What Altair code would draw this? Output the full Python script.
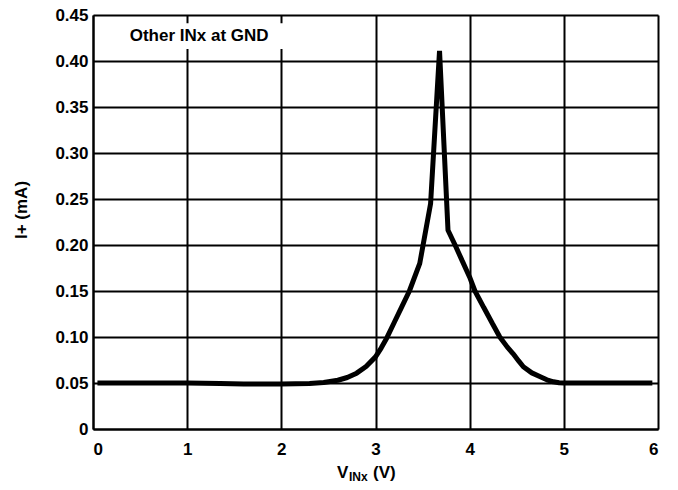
import altair as alt
import pandas as pd

# Curve data: input voltage V_INx (V) vs supply current I+ (mA)
v_inx = [0.047, 0.5, 1.0, 1.35, 1.6, 2.0, 2.3, 2.45, 2.6, 2.7, 2.8, 2.9, 3.0, 3.06,
         3.12, 3.2, 3.28, 3.36, 3.47, 3.585, 3.68, 3.77, 3.845, 3.92, 4.0, 4.056,
         4.15, 4.24, 4.32, 4.4, 4.46, 4.52, 4.57, 4.66, 4.75, 4.82, 4.89, 4.95,
         5.0, 5.5, 5.94]
i_plus = [0.050, 0.050, 0.050, 0.0495, 0.049, 0.049, 0.0495, 0.0505, 0.053, 0.056,
          0.0607, 0.068, 0.0784, 0.088, 0.099, 0.116, 0.133, 0.150, 0.180, 0.245,
          0.411, 0.216, 0.200, 0.183, 0.165, 0.150, 0.132, 0.115, 0.100, 0.089,
          0.082, 0.074, 0.0676, 0.061, 0.0568, 0.0535, 0.0513, 0.0503, 0.050,
          0.050, 0.050]

x_ticks = [0, 1, 2, 3, 4, 5, 6]
y_ticks = [0, 0.05, 0.10, 0.15, 0.20, 0.25, 0.30, 0.35, 0.40, 0.45]

note_text = ["Other INx at GND"]
note_x = [0.39]
note_y = [0.427]
note_box_x = [0.34]
note_box_x2 = [2.03]
note_box_y = [0.413]
note_box_y2 = [0.441]

FONT = "Liberation Sans"
W, H = 565, 414

df = pd.DataFrame({"v": v_inx, "i": i_plus})
note_df = pd.DataFrame({"t": note_text, "x": note_x, "y": note_y,
                        "bx": note_box_x, "bx2": note_box_x2,
                        "by": note_box_y, "by2": note_box_y2})

xscale = alt.Scale(domain=[0, 6], nice=False)
yscale = alt.Scale(domain=[0, 0.45], nice=False)

xaxis = alt.Axis(values=x_ticks, title=None, grid=True, gridColor="black",
                 gridWidth=2, gridOpacity=1, domainColor="black", domainWidth=2,
                 tickSize=0, labelPadding=12, labelFont=FONT, labelFontSize=17,
                 labelFontWeight="bold", labelColor="black", format="d")
yaxis = alt.Axis(values=y_ticks, title=None, grid=True, gridColor="black",
                 gridWidth=2, gridOpacity=1, domainColor="black", domainWidth=2,
                 tickSize=0, labelPadding=5, labelFont=FONT, labelFontSize=17,
                 labelFontWeight="bold", labelColor="black",
                 labelExpr="datum.value == 0 ? '0' : format(datum.value, '.2f')")

line = alt.Chart(df).mark_line(color="black", strokeWidth=5, strokeJoin="bevel").encode(
    x=alt.X("v:Q", scale=xscale, axis=xaxis),
    y=alt.Y("i:Q", scale=yscale, axis=yaxis),
    order="v:Q",
)

box = alt.Chart(note_df).mark_rect(color="white").encode(
    x=alt.X("bx:Q", scale=xscale), x2="bx2:Q",
    y=alt.Y("by:Q", scale=yscale), y2="by2:Q",
)

note = alt.Chart(note_df).mark_text(
    align="left", baseline="middle", font=FONT, fontSize=17, fontWeight="bold",
    color="black").encode(
    x=alt.X("x:Q", scale=xscale), y=alt.Y("y:Q", scale=yscale), text="t:N")


def tpart(txt, xpos, ypos, size):
    return alt.Chart(pd.DataFrame({"t": [txt]})).mark_text(
        align="left", baseline="alphabetic", font=FONT, fontSize=size,
        fontWeight="bold", color="black").encode(
        x=alt.value(xpos), y=alt.value(ypos), text="t:N")


xt1 = tpart("V", 244, 463, 17)
xt2 = tpart("INx", 256, 466, 12)
xt3 = tpart("(V)", 280, 463, 17)

ytitle = alt.Chart(pd.DataFrame({"t": ["I+ (mA)"]})).mark_text(
    align="center", baseline="middle", angle=270, font=FONT, fontSize=17,
    fontWeight="bold", color="black").encode(
    x=alt.value(-71), y=alt.value(195), text="t:N")

chart = alt.layer(box, line, note, xt1, xt2, xt3, ytitle).properties(
    width=W, height=H,
    autosize=alt.AutoSizeParams(type="none"),
    padding={"left": 85, "top": 7, "right": 10, "bottom": 53},
).configure_view(stroke="black", strokeWidth=2).configure(background="white")

chart.save("out.html", embed_options={"renderer": "svg", "actions": False})
